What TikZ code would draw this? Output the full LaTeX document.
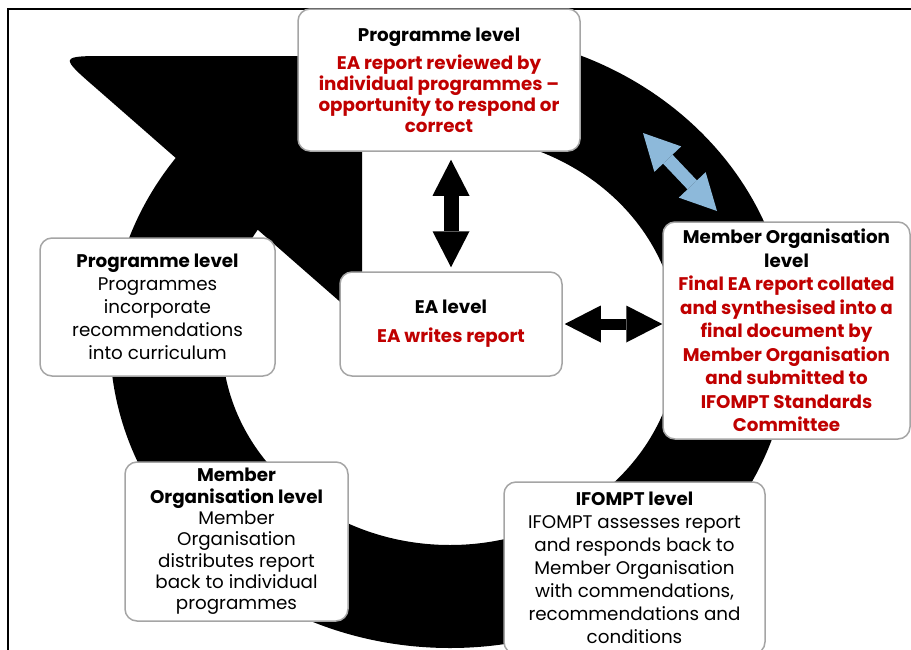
\documentclass[tikz,border=0pt]{standalone}
\usepackage{fontspec}
\setmainfont{Poppins}
\usetikzlibrary{arrows.meta}

\definecolor{eared}{RGB}{192,0,0}
\definecolor{cycleblue}{RGB}{141,185,218}
\definecolor{boxgray}{RGB}{165,165,165}

\tikzset{
  levelbox/.style={draw=boxgray, line width=1.5pt, fill=white, rounded corners=12pt, align=center, inner sep=0pt},
  redbox/.style={levelbox, text=eared},
  twoway/.style={line width=#1, {Triangle[length=36pt,width=37pt,line width=0pt]}-{Triangle[length=36pt,width=37pt,line width=0pt]}},
}

\begin{document}
\begin{tikzpicture}[x=1pt,y=-1pt]
\useasboundingbox (0,0) rectangle (911,649);
\clip (0,0) rectangle (911,649);
\draw[line width=2.5pt] (8,670) -- (8,9) -- (930,9);

% the cycle
\fill[black,even odd rule] (450,340) ellipse [x radius=340pt, y radius=308pt]
  (450,340) ellipse [x radius=228pt, y radius=205pt];
\fill[black] (362,321) -- (97,89) .. controls (59,56) .. (109,56) -- (362,56) -- cycle;

\node[redbox, minimum width=282pt, minimum height=142pt, font=\fontsize{18.3}{21}\selectfont\bfseries] (toplevel) at (439,80)
  {\textcolor{black}{Programme level}\\[7pt] EA report reviewed by\\ individual programmes –\\ opportunity to respond or\\ correct};
\node[levelbox, minimum width=235pt, minimum height=138pt, font=\fontsize{18.3}{23}\selectfont] (leftlevel) at (157.5,307)
  {\textbf{Programme level}\\ Programmes\\ incorporate\\ recommendations\\ into curriculum};
\node[redbox, minimum width=222pt, minimum height=104pt, font=\fontsize{18.3}{23}\selectfont\bfseries] (ealevel) at (451,324)
  {\textcolor{black}{EA level}\\[6pt] EA writes report};
\node[redbox, minimum width=247pt, minimum height=217pt, font=\fontsize{18.3}{23.5}\selectfont\bfseries] (molevel) at (786.5,330.5)
  {\textcolor{black}{Member Organisation}\\ \textcolor{black}{level}\\ Final EA report collated\\ and synthesised into a\\ final document by\\ Member Organisation\\ and submitted to\\ IFOMPT Standards\\ Committee};
\node[levelbox, minimum width=223pt, minimum height=159pt, font=\fontsize{18.3}{21.3}\selectfont] (distlevel) at (236.5,541.5)
  {\textbf{Member}\\ \textbf{Organisation level}\\ Member\\ Organisation\\ distributes report\\ back to individual\\ programmes};
\node[levelbox, minimum width=261pt, minimum height=172pt, font=\fontsize{18.3}{23.1}\selectfont] (ifomptlevel) at (634.5,568)
  {\textbf{IFOMPT level}\\ IFOMPT assesses report\\ and responds back to\\ Member Organisation\\ with commendations,\\ recommendations and\\ conditions};

% two way arrows
\draw[twoway=15pt, shorten <=8pt, shorten >=4pt] (ealevel.north |- toplevel.south) -- (ealevel.north);
\draw[twoway=11pt, shorten <=2pt] (ealevel.east) -- (ealevel.east -| molevel.west);
\coordinate (b1) at (643,133);
\coordinate (b2) at (717,211);
\draw[twoway=13pt, cycleblue] (b1) -- (b2);
\end{tikzpicture}
\end{document}
